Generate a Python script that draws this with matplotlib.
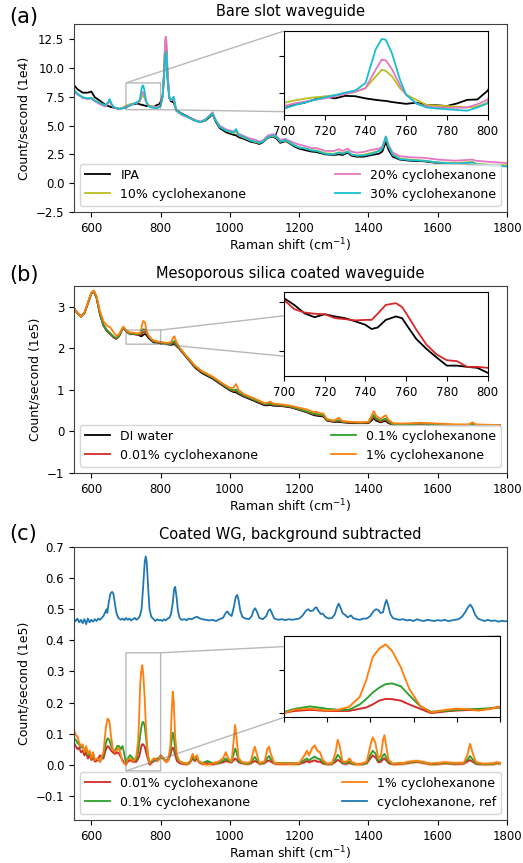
"""Raman spectra of slot waveguides: bare, mesoporous-silica coated, and
background-subtracted, each with a zoomed inset around the 750 cm-1 band."""

import matplotlib
matplotlib.use("Agg")
import matplotlib.pyplot as plt
import numpy as np

# ---------------------------------------------------------------- panel (a)
# Count/second in units of 1e4
x_a = [550, 560, 575, 590, 600, 610, 625, 640, 648, 653, 658, 665, 680, 690,
       700, 705, 710, 715, 720, 725, 730, 735, 740, 745, 748, 750, 753, 757,
       760, 765, 770, 775, 780, 785, 790, 795, 800,
       806, 810, 813, 815, 817, 820, 825, 830, 838, 845, 860, 880, 900, 915,
       930, 942, 950, 958, 970, 990,
       1010, 1018, 1025, 1040, 1060, 1075, 1085, 1095, 1110, 1125, 1135, 1145,
       1160, 1170, 1185, 1200, 1220, 1235, 1250, 1275,
       1300, 1315, 1325, 1340, 1350, 1365, 1385, 1410, 1430, 1440, 1450, 1458,
       1470, 1490, 1520, 1560, 1600, 1650, 1700, 1710, 1750, 1800]
ipa = [8.5, 8.15, 7.85, 7.85, 7.95, 7.45, 7.15, 6.8, 6.7, 6.65, 6.6, 6.55, 6.45, 6.5,
       6.56, 6.67, 6.72, 6.81, 6.89, 6.84, 6.91, 6.9, 6.84, 6.8, 6.78, 6.77, 6.74, 6.71,
       6.69, 6.72, 6.66, 6.65, 6.63, 6.7, 6.8, 6.81, 7.05,
       7.6, 9.5, 11.8, 12.2, 11.5, 9.2, 7.4, 7.1, 7.0, 6.35, 6.05, 5.75, 5.45, 5.3,
       5.45, 5.75, 6.0, 5.4, 4.8, 4.4,
       4.2, 4.15, 4.0, 3.85, 3.6, 3.5, 3.4, 3.55, 3.95, 4.05, 3.85, 3.5,
       3.65, 3.5, 3.2, 3.0, 2.85, 2.75, 2.7, 2.5,
       2.45, 2.5, 2.45, 2.65, 2.4, 2.3, 2.3, 2.45, 2.55, 2.75, 3.6, 2.9,
       2.3, 2.05, 1.95, 1.9, 1.75, 1.7, 1.6, 1.6, 1.55, 1.5]
cyc10 = [8.1, 7.75, 7.45, 7.35, 7.4, 7.15, 6.95, 6.75, 6.95, 7.2, 6.85, 6.6, 6.45, 6.55,
         6.72, 6.78, 6.83, 6.87, 6.89, 6.93, 6.96, 7.02, 7.12, 7.44, 7.63, 7.6, 7.45, 7.12,
         6.95, 6.8, 6.66, 6.64, 6.63, 6.61, 6.59, 6.62, 6.72,
         7.5, 9.5, 12.0, 12.4, 11.8, 9.5, 7.5, 7.2, 7.3, 6.3, 6.0, 5.7, 5.4, 5.3,
         5.5, 5.85, 6.05, 5.5, 4.9, 4.55,
         4.35, 4.45, 4.15, 3.95, 3.7, 3.55, 3.5, 3.6, 4.0, 4.1, 3.95, 3.6,
         3.7, 3.55, 3.3, 3.1, 3.0, 2.85, 2.85, 2.6,
         2.55, 2.7, 2.6, 2.75, 2.5, 2.4, 2.45, 2.65, 2.8, 3.05, 3.95, 3.2,
         2.5, 2.15, 2.05, 1.95, 1.8, 1.75, 1.85, 1.7, 1.6, 1.55]
cyc20 = [8.0, 7.7, 7.4, 7.3, 7.35, 7.1, 6.85, 6.65, 6.9, 7.15, 6.8, 6.55, 6.4, 6.5,
         6.63, 6.7, 6.75, 6.8, 6.84, 6.9, 6.96, 7.03, 7.12, 7.63, 7.91, 7.89, 7.65, 7.2,
         6.94, 6.7, 6.62, 6.59, 6.58, 6.58, 6.59, 6.68, 6.8,
         7.5, 9.7, 12.4, 12.7, 12.2, 9.8, 7.5, 7.2, 7.3, 6.3, 5.95, 5.7, 5.45, 5.35,
         5.55, 5.9, 6.15, 5.55, 5.0, 4.65,
         4.5, 4.55, 4.3, 4.1, 3.85, 3.75, 3.6, 3.7, 4.15, 4.25, 4.1, 3.75,
         3.85, 3.7, 3.5, 3.35, 3.2, 3.05, 3.05, 2.8,
         2.8, 2.95, 2.8, 3.0, 2.75, 2.65, 2.7, 2.9, 3.0, 3.15, 4.05, 3.3,
         2.65, 2.35, 2.25, 2.2, 2.05, 1.95, 2.05, 1.95, 1.85, 1.75]
cyc30 = [8.05, 7.75, 7.45, 7.35, 7.4, 7.15, 6.95, 6.75, 7.0, 7.3, 6.9, 6.6, 6.45, 6.5,
         6.56, 6.65, 6.72, 6.8, 6.87, 6.93, 7.0, 7.06, 7.26, 8.19, 8.48, 8.46, 8.09, 7.35,
         6.94, 6.7, 6.59, 6.56, 6.54, 6.52, 6.5, 6.59, 6.7,
         7.6, 9.2, 11.0, 11.4, 11.0, 9.0, 7.4, 7.2, 7.5, 6.3, 6.0, 5.7, 5.4, 5.3,
         5.5, 5.85, 6.05, 5.5, 4.9, 4.55,
         4.4, 4.7, 4.2, 4.0, 3.7, 3.6, 3.5, 3.6, 4.0, 4.15, 4.0, 3.6,
         3.75, 3.6, 3.3, 3.1, 3.0, 2.85, 2.8, 2.55,
         2.5, 2.65, 2.55, 2.75, 2.5, 2.4, 2.4, 2.55, 2.8, 3.0, 4.05, 3.2,
         2.45, 2.1, 2.0, 1.95, 1.8, 1.7, 1.8, 1.65, 1.55, 1.45]

# ---------------------------------------------------------------- panel (b)
# Count/second in units of 1e5
x_b = [550, 560, 570, 580, 590, 600, 607, 615, 625, 635, 645, 655, 665, 672,
       680, 687, 692, 697,
       700, 705, 710, 715, 720, 725, 730, 735, 740, 743, 746, 750, 755, 758,
       760, 765, 770, 775, 780, 785, 790, 795, 800,
       810, 820, 830, 836, 840, 845, 855, 870, 885, 900, 920, 950, 980,
       1000, 1010, 1018, 1025, 1040, 1060, 1080, 1100, 1110, 1116, 1125, 1150,
       1175, 1200, 1222, 1240, 1250, 1260, 1270, 1280,
       1300, 1315, 1325, 1350, 1380, 1400, 1410, 1415, 1422, 1435, 1442, 1450,
       1458, 1470, 1500, 1550, 1600, 1650, 1690, 1700, 1710, 1750, 1780]
di_water = [2.97, 2.85, 2.77, 2.85, 3.08, 3.32, 3.37, 3.22, 2.82, 2.55, 2.42, 2.34, 2.26, 2.23,
            2.29, 2.42, 2.49, 2.45,
            2.416, 2.389, 2.355, 2.339, 2.351, 2.342, 2.335, 2.322, 2.308, 2.291, 2.297, 2.328,
            2.342, 2.335, 2.31, 2.25, 2.21, 2.175, 2.142, 2.142, 2.137, 2.133, 2.113,
            2.12, 2.10, 2.08, 2.10, 2.12, 2.06, 1.98, 1.83, 1.68, 1.53, 1.40, 1.27, 1.10,
            0.99, 0.95, 0.94, 0.90, 0.84, 0.77, 0.70, 0.63, 0.63, 0.64, 0.62, 0.61,
            0.58, 0.52, 0.46, 0.40, 0.38, 0.37, 0.36, 0.26,
            0.23, 0.23, 0.22, 0.20, 0.20, 0.20, 0.27, 0.32, 0.26, 0.22, 0.24, 0.25,
            0.20, 0.16, 0.15, 0.17, 0.15, 0.14, 0.14, 0.15, 0.14, 0.14, 0.14]
b_001 = [2.95, 2.84, 2.76, 2.84, 3.08, 3.32, 3.37, 3.22, 2.82, 2.55, 2.42, 2.34, 2.26, 2.23,
         2.29, 2.42, 2.49, 2.45,
         2.409, 2.372, 2.358, 2.353, 2.351, 2.335, 2.331, 2.326, 2.328, 2.328, 2.353, 2.389,
         2.396, 2.38, 2.355, 2.288, 2.227, 2.187, 2.164, 2.160, 2.137, 2.137, 2.133,
         2.13, 2.11, 2.10, 2.13, 2.14, 2.08, 1.99, 1.84, 1.69, 1.55, 1.42, 1.29, 1.12,
         1.01, 0.97, 0.97, 0.92, 0.86, 0.79, 0.72, 0.65, 0.65, 0.66, 0.64, 0.62,
         0.59, 0.53, 0.47, 0.42, 0.40, 0.39, 0.38, 0.27,
         0.24, 0.25, 0.23, 0.21, 0.21, 0.21, 0.30, 0.36, 0.29, 0.24, 0.26, 0.28,
         0.22, 0.17, 0.16, 0.18, 0.16, 0.15, 0.15, 0.17, 0.15, 0.15, 0.15]
b_01 = [2.95, 2.84, 2.76, 2.85, 3.09, 3.33, 3.38, 3.24, 2.84, 2.57, 2.44, 2.36, 2.28, 2.25,
        2.30, 2.43, 2.50, 2.46,
        2.42, 2.39, 2.36, 2.35, 2.36, 2.35, 2.34, 2.34, 2.35, 2.36, 2.41, 2.46,
        2.45, 2.42, 2.37, 2.30, 2.24, 2.20, 2.17, 2.165, 2.15, 2.145, 2.14,
        2.13, 2.11, 2.11, 2.16, 2.18, 2.10, 2.00, 1.85, 1.70, 1.56, 1.43, 1.30, 1.13,
        1.02, 0.99, 1.01, 0.94, 0.87, 0.80, 0.73, 0.66, 0.66, 0.67, 0.65, 0.63,
        0.60, 0.54, 0.48, 0.43, 0.42, 0.40, 0.39, 0.28,
        0.25, 0.27, 0.24, 0.22, 0.21, 0.22, 0.33, 0.40, 0.32, 0.26, 0.29, 0.31,
        0.24, 0.18, 0.17, 0.19, 0.17, 0.16, 0.16, 0.18, 0.16, 0.15, 0.15]
b_1 = [2.96, 2.85, 2.77, 2.86, 3.10, 3.34, 3.39, 3.26, 2.90, 2.65, 2.55, 2.50, 2.38, 2.30,
       2.34, 2.45, 2.52, 2.48,
       2.43, 2.41, 2.39, 2.38, 2.38, 2.37, 2.36, 2.36, 2.37, 2.42, 2.55, 2.66,
       2.62, 2.48, 2.40, 2.32, 2.26, 2.22, 2.19, 2.18, 2.17, 2.16, 2.15,
       2.14, 2.13, 2.15, 2.26, 2.29, 2.16, 2.02, 1.86, 1.72, 1.58, 1.45, 1.32, 1.15,
       1.05, 1.05, 1.14, 1.00, 0.90, 0.83, 0.76, 0.68, 0.69, 0.72, 0.67, 0.65,
       0.62, 0.57, 0.53, 0.47, 0.47, 0.44, 0.43, 0.30,
       0.26, 0.33, 0.25, 0.23, 0.22, 0.23, 0.40, 0.49, 0.38, 0.30, 0.35, 0.39,
       0.28, 0.20, 0.19, 0.21, 0.19, 0.17, 0.17, 0.22, 0.17, 0.16, 0.15]

# ---------------------------------------------------------------- panel (c)
# Background-subtracted, count/second in units of 1e5
x_c = [550, 555, 560, 565, 570, 575, 580, 585, 590, 595, 600, 605, 610, 618,
       625, 635, 642, 647, 652, 657, 662, 668, 675, 680, 685, 690, 695,
       700, 705, 712, 720, 725, 730, 735, 738, 741, 744, 747, 750, 754, 758,
       763, 768, 775, 780, 785, 790, 795, 800,
       808, 815, 822, 828, 832, 835, 838, 842, 847, 855, 865, 875, 885, 892,
       898, 905, 910, 920, 935, 950, 965, 980, 988, 995, 1005,
       1011, 1015, 1019, 1025, 1035, 1050, 1060, 1068, 1072, 1076, 1085, 1100,
       1108, 1113, 1118, 1128, 1150, 1180, 1200, 1215, 1222, 1228, 1238, 1245,
       1252, 1260, 1268, 1280, 1295,
       1305, 1311, 1317, 1325, 1335, 1345, 1352, 1365, 1380, 1395, 1405, 1412,
       1420, 1428, 1436, 1442, 1446, 1451, 1458, 1470, 1500, 1520, 1540, 1560,
       1580, 1600, 1620, 1650, 1675, 1685, 1693, 1700, 1710, 1730, 1760, 1770, 1780]
c_001 = [0.07, 0.06, 0.05, 0.055, 0.04, 0.045, 0.03, 0.04, 0.02, 0.03, 0.015, 0.025, 0.01, 0.015,
         0.03, 0.02, 0.05, 0.06, 0.055, 0.045, 0.04, 0.035, 0.04, 0.035, 0.025, 0.015, 0.005,
         0.002, 0.01, 0.015, 0.01, 0.01, 0.01, 0.02, 0.026, 0.04, 0.058, 0.066, 0.065, 0.058, 0.04,
         0.02, 0.0, 0.008, 0.012, 0.014, 0.015, 0.02, 0.03,
         0.02, 0.01, 0.015, 0.03, 0.048, 0.055, 0.05, 0.03, 0.012, 0.005, 0.003, 0.002, 0.008, 0.02,
         0.012, 0.02, 0.008, 0.003, 0.005, 0.002, 0.005, 0.008, 0.012, 0.01, 0.008,
         0.015, 0.02, 0.016, 0.008, 0.005, 0.003, 0.005, 0.01, 0.012, 0.01, 0.003, 0.006,
         0.012, 0.014, 0.01, 0.004, 0.003, 0.004, 0.003, 0.008, 0.012, 0.008, 0.012, 0.014,
         0.01, 0.01, 0.004, 0.002, 0.003,
         0.01, 0.016, 0.012, 0.004, 0.003, 0.006, 0.003, 0.002, 0.002, 0.005, 0.02, 0.03,
         0.024, 0.008, 0.01, 0.018, 0.02, 0.014, 0.005, 0.002, 0.004, 0.007, 0.01, 0.006,
         0.002, 0.003, 0.005, 0.003, 0.004, 0.01, 0.015, 0.01, 0.003, 0.002, 0.003, 0.005, 0.004]
c_01 = [0.085, 0.08, 0.07, 0.065, 0.055, 0.06, 0.04, 0.05, 0.03, 0.04, 0.02, 0.035, 0.015, 0.02,
        0.01, 0.03, 0.07, 0.085, 0.08, 0.06, 0.05, 0.045, 0.06, 0.06, 0.05, 0.06, 0.035,
        0.005, 0.02, 0.031, 0.02, 0.015, 0.015, 0.04, 0.065, 0.095, 0.118, 0.135, 0.138, 0.125, 0.083,
        0.032, 0.006, 0.01, 0.015, 0.018, 0.02, 0.022, 0.025,
        0.02, 0.012, 0.02, 0.04, 0.08, 0.103, 0.09, 0.05, 0.02, 0.01, 0.005, 0.003, 0.008, 0.03,
        0.015, 0.025, 0.01, 0.005, 0.012, 0.005, 0.006, 0.012, 0.02, 0.012, 0.01,
        0.035, 0.052, 0.04, 0.012, 0.006, 0.004, 0.006, 0.02, 0.025, 0.018, 0.004, 0.008,
        0.022, 0.028, 0.018, 0.005, 0.005, 0.004, 0.004, 0.015, 0.02, 0.014, 0.022, 0.026,
        0.02, 0.018, 0.008, 0.002, 0.004,
        0.018, 0.032, 0.024, 0.006, 0.005, 0.01, 0.004, 0.002, 0.003, 0.006, 0.03, 0.045,
        0.036, 0.012, 0.016, 0.03, 0.035, 0.024, 0.008, 0.003, 0.005, 0.008, 0.011, 0.007,
        0.003, 0.004, 0.006, 0.004, 0.005, 0.015, 0.028, 0.018, 0.004, 0.002, 0.003, 0.006, 0.005]
c_1 = [0.112, 0.095, 0.09, 0.07, 0.06, 0.065, 0.04, 0.06, 0.035, 0.045, 0.02, 0.04, 0.015, 0.02,
       0.01, 0.04, 0.12, 0.148, 0.14, 0.09, 0.05, 0.04, 0.05, 0.055, 0.03, 0.01, 0.005,
       0.0, 0.016, 0.02, 0.012, 0.015, 0.028, 0.075, 0.152, 0.26, 0.30, 0.32, 0.29, 0.214, 0.112,
       0.034, 0.003, 0.015, 0.02, 0.018, 0.012, 0.02, 0.028,
       0.02, 0.01, 0.015, 0.06, 0.17, 0.235, 0.20, 0.09, 0.03, 0.01, 0.005, 0.003, 0.01, 0.035,
       0.02, 0.03, 0.01, 0.005, 0.0, 0.005, 0.008, 0.02, 0.04, 0.02, 0.01,
       0.08, 0.128, 0.09, 0.02, 0.008, 0.005, 0.01, 0.045, 0.058, 0.04, 0.005, 0.01,
       0.05, 0.058, 0.035, 0.005, 0.004, 0.003, 0.005, 0.03, 0.045, 0.03, 0.055, 0.062,
       0.045, 0.04, 0.015, 0.003, 0.005,
       0.04, 0.08, 0.06, 0.01, 0.008, 0.02, 0.008, 0.002, 0.003, 0.01, 0.06, 0.088,
       0.07, 0.02, 0.03, 0.08, 0.095, 0.06, 0.015, 0.003, 0.005, 0.01, 0.012, 0.008,
       0.003, 0.005, 0.008, 0.005, 0.006, 0.03, 0.067, 0.04, 0.008, 0.003, 0.004, 0.008, 0.005]
# half-width of the shaded spread around each background-subtracted trace
c_spread = {"0.01%": 0.004, "0.1%": 0.004, "1%": 0.007}

x_ref = [550, 555, 560, 565, 570, 575, 580, 585, 590, 595, 600, 605, 610, 615, 620, 625, 630, 635, 640, 644,
         646, 650, 655, 660, 664, 668, 672, 678, 685, 690, 695, 700, 705, 710, 715, 720, 725, 730, 735, 740,
         745, 750, 754, 757, 760, 764, 768, 773, 780, 785, 790, 795, 800, 805, 810, 815, 820, 825, 830, 835,
         839, 842, 846, 850, 855, 860, 870, 875, 880, 890, 900, 905, 910, 920, 930, 940, 950, 960, 970, 980,
         988, 993, 998, 1005, 1012, 1017, 1021, 1025, 1030, 1036, 1045, 1055, 1063, 1068, 1073, 1078, 1085, 1095, 1105, 1111,
         1116, 1121, 1128, 1140, 1150, 1160, 1170, 1180, 1190, 1200, 1210, 1220, 1226, 1232, 1240, 1246, 1250, 1255, 1262, 1268,
         1275, 1285, 1295, 1303, 1309, 1314, 1319, 1325, 1332, 1340, 1346, 1350, 1355, 1365, 1375, 1385, 1395, 1405, 1415, 1422,
         1428, 1435, 1442, 1448, 1452, 1457, 1463, 1470, 1480, 1490, 1500, 1510, 1520, 1530, 1540, 1550, 1560, 1570, 1580, 1590,
         1600, 1610, 1620, 1630, 1640, 1650, 1660, 1670, 1680, 1688, 1694, 1700, 1708, 1716, 1725, 1735, 1745, 1755, 1765, 1775,
         1785, 1795, 1800]
ref = [0.468, 0.462, 0.470, 0.458, 0.466, 0.455, 0.468, 0.452, 0.470, 0.458, 0.466, 0.460, 0.468, 0.462, 0.470, 0.466, 0.472, 0.478, 0.490, 0.500,
       0.488, 0.520, 0.550, 0.556, 0.548, 0.520, 0.490, 0.472, 0.466, 0.470, 0.465, 0.472, 0.466, 0.470, 0.464, 0.468, 0.472, 0.466, 0.470, 0.478,
       0.500, 0.580, 0.650, 0.670, 0.650, 0.570, 0.500, 0.476, 0.468, 0.462, 0.468, 0.464, 0.466, 0.462, 0.468, 0.464, 0.470, 0.472, 0.485, 0.520,
       0.565, 0.572, 0.540, 0.495, 0.472, 0.466, 0.468, 0.464, 0.470, 0.468, 0.474, 0.476, 0.472, 0.468, 0.466, 0.464, 0.466, 0.462, 0.468, 0.472,
       0.488, 0.493, 0.484, 0.478, 0.510, 0.540, 0.546, 0.530, 0.495, 0.475, 0.470, 0.468, 0.478, 0.496, 0.503, 0.492, 0.472, 0.468, 0.478, 0.495,
       0.500, 0.488, 0.470, 0.466, 0.468, 0.465, 0.468, 0.466, 0.468, 0.470, 0.480, 0.496, 0.500, 0.494, 0.496, 0.505, 0.506, 0.495, 0.485, 0.486,
       0.476, 0.470, 0.472, 0.484, 0.506, 0.518, 0.506, 0.488, 0.482, 0.474, 0.478, 0.480, 0.472, 0.468, 0.466, 0.470, 0.470, 0.478, 0.494, 0.500,
       0.498, 0.488, 0.490, 0.518, 0.530, 0.512, 0.485, 0.472, 0.468, 0.466, 0.468, 0.464, 0.466, 0.462, 0.468, 0.464, 0.462, 0.466, 0.464, 0.462,
       0.465, 0.463, 0.466, 0.462, 0.464, 0.466, 0.468, 0.476, 0.492, 0.508, 0.515, 0.505, 0.482, 0.470, 0.466, 0.462, 0.466, 0.462, 0.464, 0.460,
       0.463, 0.461, 0.462]

XLABEL = "Raman shift (cm$^{-1}$)"
LW = 1.3

plt.rcParams.update({
    "font.family": "DejaVu Sans",
    "xtick.labelsize": 8.5,
    "ytick.labelsize": 8.5,
    "axes.labelsize": 9,
    "axes.titlesize": 10.5,
    "legend.fontsize": 9,
    "axes.edgecolor": "0.25",
})


def _check(x, *series):
    for s in series:
        assert len(s) == len(x), (len(x), len(s))


def _style_main(ax, ylabel, ylim, yticks, title):
    ax.set_xlim(550, 1800)
    ax.set_ylim(*ylim)
    ax.set_xticks(range(600, 1801, 200))
    ax.set_yticks(yticks)
    ax.set_xlabel(XLABEL, labelpad=1.5)
    ax.set_ylabel(ylabel)
    ax.set_title(title)


def _make_inset(ax, bounds, ylim, yticks, xlabels=True):
    axins = ax.inset_axes(bounds)
    axins.set_xlim(700, 800)
    axins.set_ylim(*ylim)
    axins.set_xticks(range(700, 801, 20))
    axins.set_yticks(yticks)
    axins.set_yticklabels([])
    if not xlabels:
        axins.set_xticklabels([])
    for sp in axins.spines.values():
        sp.set_color("k")
    ax.indicate_inset_zoom(axins, edgecolor="0.45")
    return axins


def _legend(ax):
    ax.legend(ncol=2, loc="lower left", mode="expand",
              bbox_to_anchor=(0, 0, 1, 1), borderaxespad=0.5)


_check(x_a, ipa, cyc10, cyc20, cyc30)
_check(x_b, di_water, b_001, b_01, b_1)
_check(x_c, c_001, c_01, c_1)
_check(x_ref, ref)

fig = plt.figure(figsize=(5.23, 8.63), dpi=100)
ax_a = fig.add_axes([0.1415, 0.7543, 0.828, 0.2178])
ax_b = fig.add_axes([0.1415, 0.4519, 0.828, 0.2167])
ax_c = fig.add_axes([0.1415, 0.0498, 0.828, 0.3163])

# (a) bare slot waveguide
series_a = [(ipa, "IPA", "k"), (cyc10, "10% cyclohexanone", "tab:olive"),
            (cyc20, "20% cyclohexanone", "tab:pink"), (cyc30, "30% cyclohexanone", "tab:cyan")]
ins_a = _make_inset(ax_a, [0.485, 0.516, 0.470, 0.447], (6.38, 8.70), [7, 8])
for y, label, color in series_a:
    ax_a.plot(x_a, y, color=color, lw=LW, label=label)
    ins_a.plot(x_a, y, color=color, lw=LW)
_style_main(ax_a, "Count/second (1e4)", (-2.5, 13.8), np.arange(-2.5, 12.6, 2.5),
            "Bare slot waveguide")
_legend(ax_a)

# (b) mesoporous silica coated waveguide
series_b = [(di_water, "DI water", "k"), (b_001, "0.01% cyclohexanone", "tab:red"),
            (b_01, "0.1% cyclohexanone", "tab:green"), (b_1, "1% cyclohexanone", "tab:orange")]
ins_b = _make_inset(ax_b, [0.485, 0.519, 0.470, 0.447], (2.10, 2.44), [2.2, 2.4])
for y, label, color in series_b:
    ax_b.plot(x_b, y, color=color, lw=LW, label=label)
for y, label, color in series_b[:2]:
    ins_b.plot(x_b, y, color=color, lw=LW)
_style_main(ax_b, "Count/second (1e5)", (-1.0, 3.5), range(-1, 4),
            "Mesoporous silica coated waveguide")
_legend(ax_b)

# (c) background subtracted
series_c = [(c_001, "0.01%", "tab:red"), (c_01, "0.1%", "tab:green"), (c_1, "1%", "tab:orange")]
ins_c = _make_inset(ax_c, [0.485, 0.376, 0.499, 0.299], (-0.02, 0.36), [0.0, 0.2],
                    xlabels=False)
for y, key, color in series_c:
    y = np.asarray(y)
    d = c_spread[key]
    for a in (ax_c, ins_c):
        a.fill_between(x_c, y - d, y + d, color=color, alpha=0.3, lw=0)
        a.plot(x_c, y, color=color, lw=LW, label=f"{key} cyclohexanone")
ax_c.plot(x_ref, ref, color="tab:blue", lw=LW, label="cyclohexanone, ref")
_style_main(ax_c, "Count/second (1e5)", (-0.178, 0.7), np.arange(-0.1, 0.71, 0.1),
            "Coated WG, background subtracted")
_legend(ax_c)

for label, y in (("(a)", 16.5), ("(b)", 275), ("(c)", 534)):
    fig.text(0.017, 1 - y / 863, label, fontsize=15, va="center")

fig.savefig("out.png", dpi=100)
